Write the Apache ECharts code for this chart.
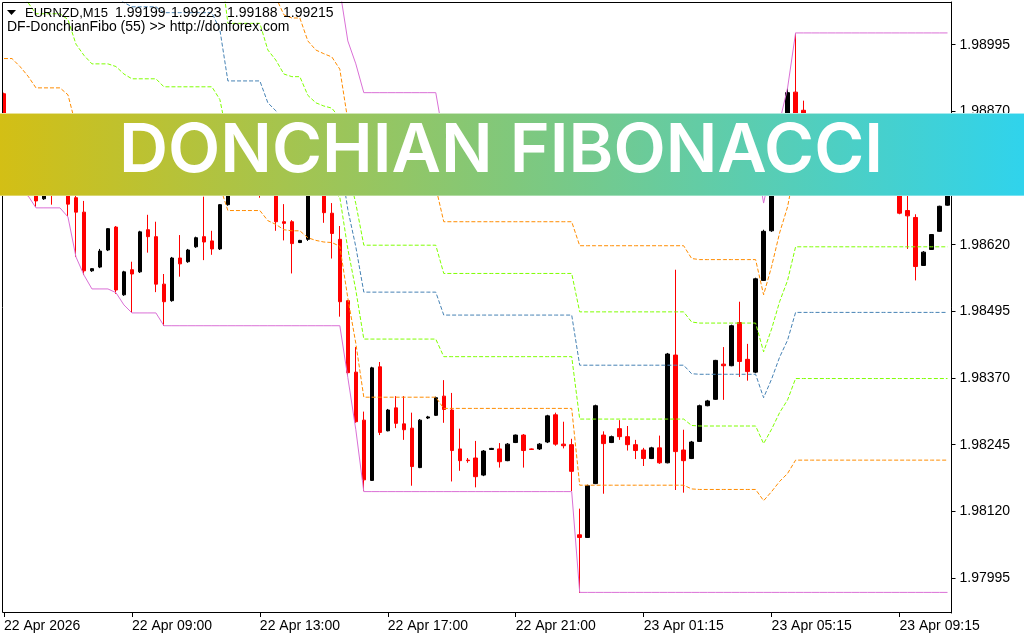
<!DOCTYPE html>
<html><head><meta charset="utf-8">
<script src="https://cdn.jsdelivr.net/npm/echarts@6/dist/echarts.min.js"></script>
<style>html,body{margin:0;padding:0;background:#fff}#c{width:1024px;height:640px}</style>
</head><body><div id="c"></div>
<script>
// ---- data: [open, close, low, high] ----
const candles = [
[1.98903,1.98798,1.98770,1.98905],[1.98770,1.98798,1.98760,1.98807],[1.98798,1.98760,1.98736,1.98807],[1.98760,1.98723,1.98711,1.98770],
[1.98723,1.98702,1.98691,1.98738],[1.98706,1.98712,1.98704,1.98719],[1.98756,1.98730,1.98695,1.98768],[1.98730,1.98756,1.98723,1.98770],
[1.98745,1.98696,1.98674,1.98756],[1.98708,1.98681,1.98597,1.98732],[1.98681,1.98571,1.98563,1.98702],[1.98571,1.98575,1.98569,1.98576],
[1.98578,1.98608,1.98576,1.98612],[1.98610,1.98650,1.98608,1.98651],[1.98653,1.98535,1.98528,1.98655],[1.98526,1.98569,1.98524,1.98571],
[1.98573,1.98565,1.98492,1.98588],[1.98569,1.98644,1.98567,1.98646],[1.98648,1.98635,1.98605,1.98676],[1.98635,1.98546,1.98531,1.98663],
[1.98546,1.98513,1.98468,1.98565],[1.98515,1.98595,1.98513,1.98597],[1.98595,1.98584,1.98560,1.98638],[1.98588,1.98610,1.98586,1.98612],
[1.98616,1.98633,1.98614,1.98635],[1.98635,1.98625,1.98591,1.98710],[1.98627,1.98612,1.98601,1.98646],[1.98612,1.98695,1.98610,1.98696],
[1.98695,1.98798,1.98693,1.98816],[1.98798,1.98770,1.98756,1.98813],[1.98770,1.98807,1.98764,1.98816],[1.98807,1.98779,1.98760,1.98819],
[1.98779,1.98732,1.98708,1.98788],[1.98732,1.98760,1.98719,1.98779],[1.98760,1.98663,1.98646,1.98770],[1.98663,1.98660,1.98628,1.98696],
[1.98663,1.98622,1.98566,1.98666],[1.98624,1.98628,1.98623,1.98629],[1.98630,1.98751,1.98627,1.98760],[1.98751,1.98732,1.98717,1.98764],
[1.98736,1.98680,1.98661,1.98785],[1.98679,1.98641,1.98594,1.98698],[1.98630,1.98513,1.98485,1.98655],[1.98515,1.98380,1.98375,1.98516],
[1.98381,1.98288,1.98286,1.98428],[1.98291,1.98179,1.98158,1.98307],[1.98178,1.98389,1.98177,1.98391],[1.98391,1.98268,1.98263,1.98400],
[1.98271,1.98310,1.98270,1.98312],[1.98314,1.98285,1.98276,1.98336],[1.98284,1.98273,1.98254,1.98336],[1.98276,1.98204,1.98168,1.98305],
[1.98202,1.98291,1.98201,1.98293],[1.98295,1.98297,1.98293,1.98299],[1.98300,1.98333,1.98299,1.98335],[1.98336,1.98311,1.98286,1.98366],
[1.98310,1.98234,1.98176,1.98342],[1.98237,1.98215,1.98196,1.98275],[1.98216,1.98215,1.98211,1.98220],[1.98220,1.98185,1.98165,1.98252],
[1.98188,1.98233,1.98186,1.98235],[1.98236,1.98238,1.98235,1.98239],[1.98237,1.98213,1.98202,1.98248],[1.98215,1.98246,1.98214,1.98248],
[1.98249,1.98263,1.98248,1.98264],[1.98263,1.98234,1.98202,1.98265],[1.98237,1.98236,1.98235,1.98238],[1.98237,1.98246,1.98235,1.98248],
[1.98250,1.98299,1.98248,1.98301],[1.98301,1.98246,1.98243,1.98305],[1.98246,1.98243,1.98238,1.98288],[1.98245,1.98195,1.98158,1.98256],
[1.98076,1.98071,1.97967,1.98125],[1.98071,1.98168,1.98070,1.98170],[1.98172,1.98318,1.98171,1.98320],[1.98263,1.98247,1.98153,1.98270],
[1.98249,1.98260,1.98248,1.98262],[1.98275,1.98260,1.98254,1.98291],[1.98260,1.98245,1.98234,1.98280],[1.98245,1.98234,1.98218,1.98254],
[1.98235,1.98219,1.98205,1.98239],[1.98219,1.98239,1.98218,1.98241],[1.98239,1.98211,1.98209,1.98262],[1.98211,1.98415,1.98210,1.98417],
[1.98413,1.98232,1.98160,1.98573],[1.98235,1.98215,1.98155,1.98273],[1.98219,1.98250,1.98218,1.98252],[1.98251,1.98318,1.98250,1.98320],
[1.98318,1.98327,1.98317,1.98329],[1.98330,1.98403,1.98329,1.98404],[1.98396,1.98393,1.98329,1.98428],[1.98393,1.98468,1.98392,1.98470],
[1.98474,1.98401,1.98372,1.98513],[1.98405,1.98382,1.98365,1.98434],[1.98381,1.98556,1.98379,1.98558],[1.98553,1.98645,1.98552,1.98648],
[1.98646,1.98741,1.98644,1.98768],[1.98741,1.98835,1.98732,1.98850],[1.98835,1.98905,1.98826,1.98914],[1.98906,1.98807,1.98798,1.99017],
[1.98872,1.98839,1.98826,1.98890],[1.98839,1.98858,1.98828,1.98865],[1.98858,1.98816,1.98805,1.98863],[1.98816,1.98798,1.98779,1.98831],
[1.98798,1.98826,1.98788,1.98835],[1.98826,1.98783,1.98770,1.98835],[1.98783,1.98770,1.98751,1.98798],[1.98770,1.98798,1.98760,1.98807],
[1.98798,1.98760,1.98745,1.98807],[1.98760,1.98745,1.98730,1.98775],[1.98745,1.98764,1.98732,1.98779],[1.98764,1.98741,1.98723,1.98775],
[1.98741,1.98679,1.98677,1.98756],[1.98684,1.98674,1.98612,1.98714],[1.98671,1.98579,1.98553,1.98677],[1.98581,1.98606,1.98580,1.98608],
[1.98611,1.98639,1.98610,1.98640],[1.98645,1.98692,1.98644,1.98693],[1.98694,1.98714,1.98693,1.98715]
];
// Donchian (55) upper / lower channel, read per bar
const channelHigh = [
1.99660,1.99660,1.99660,1.99660,
1.99641,1.99641,1.99641,1.99641,1.99641,1.99641,1.99641,1.99641,1.99641,1.99641,
1.99641,1.99641,1.99641,1.99641,1.99641,1.99641,1.99641,1.99641,1.99641,1.99641,
1.99641,1.99641,1.99641,
1.99578,
1.99385,1.99385,1.99385,1.99385,1.99385,
1.99304,1.99274,1.99231,1.99223,1.99223,1.99167,1.99145,1.99135,1.99128,1.99098,1.99002,1.98959,
1.98905,1.98905,1.98905,1.98905,1.98905,1.98905,1.98905,1.98905,1.98905,1.98905,
1.98819,1.98819,1.98819,1.98819,1.98819,1.98819,1.98819,1.98819,1.98819,1.98819,
1.98819,1.98819,1.98819,1.98819,1.98819,1.98819,1.98819,1.98819,1.98819,1.98819,
1.98819,1.98819,1.98819,1.98819,1.98819,1.98819,1.98819,1.98819,1.98819,1.98819,
1.98819,
1.98788,
1.98785,1.98785,1.98785,1.98785,1.98785,1.98785,1.98785,1.98785,
1.98698,1.98768,1.98850,1.98914,
1.99017,1.99017,1.99017,1.99017,1.99017,1.99017,1.99017,1.99017,1.99017,1.99017,
1.99017,1.99017,1.99017,1.99017,1.99017,1.99017,1.99017,1.99017,1.99017,1.99017
];
const channelLow = [
1.98755,1.98755,1.98736,1.98712,
1.98689,1.98689,1.98689,1.98689,
1.98672,1.98597,1.98563,
1.98537,1.98537,1.98537,
1.98530,1.98507,
1.98492,1.98492,1.98492,1.98492,
1.98468,1.98468,1.98468,1.98468,1.98468,1.98468,1.98468,1.98468,1.98468,1.98468,
1.98468,1.98468,1.98468,1.98468,1.98468,1.98468,1.98468,1.98468,1.98468,1.98468,
1.98468,1.98468,1.98468,
1.98371,1.98273,
1.98157,1.98157,1.98157,1.98157,1.98157,1.98157,1.98157,1.98157,1.98157,1.98157,
1.98157,1.98157,1.98157,1.98157,1.98157,1.98157,1.98157,1.98157,1.98157,1.98157,
1.98157,1.98157,1.98157,1.98157,1.98157,1.98157,1.98157,
1.97968,1.97968,1.97968,1.97968,1.97968,1.97968,1.97968,1.97968,1.97968,1.97968,
1.97968,1.97968,1.97968,1.97968,1.97968,1.97968,1.97968,1.97968,1.97968,1.97968,
1.97968,1.97968,1.97968,1.97968,1.97968,1.97968,1.97968,1.97968,1.97968,1.97968,
1.97968,1.97968,1.97968,1.97968,1.97968,1.97968,1.97968,1.97968,1.97968,1.97968,
1.97968,1.97968,1.97968,1.97968,1.97968,1.97968,1.97968
];
const fibRatios = [0.236, 0.382, 0.5, 0.618, 0.764];
const fibColors = ['#FF8C00', '#7FFF00', '#4682B4', '#7FFF00', '#FF8C00'];
const yTickValues = [1.97995, 1.98120, 1.98245, 1.98370, 1.98495, 1.98620, 1.98745, 1.98870, 1.98995];
const xTickIndex = [0, 16, 32, 48, 64, 80, 96, 112];
const xTickLabels = ['22 Apr 2026', '22 Apr 09:00', '22 Apr 13:00', '22 Apr 17:00', '22 Apr 21:00', '23 Apr 01:15', '23 Apr 05:15', '23 Apr 09:15'];
const headerSymbol = 'EURNZD,M15';
const headerQuotes = ['1.99199', '1.99223', '1.99188', '1.99215'];
const indicatorLabel = 'DF-DonchianFibo (55) >> http://donforex.com';
const bannerTitle = 'DONCHIAN FIBONACCI';

// categories: M15 bar times
const categories = [];
const t0 = Date.UTC(2026, 3, 22, 5, 0);
for (let i = 0; i < candles.length; i++) {
  const t = new Date(t0 + (i + (i >= 76 ? 1 : 0)) * 900000);
  categories.push(t.toISOString().slice(0, 16).replace('T', ' '));
}
const labelMap = new Map(xTickIndex.map((k, j) => [k, xTickLabels[j]]));
const FONT = '"Liberation Sans", Arial, sans-serif';

// fibonacci levels of the channel (indicator definition)
const fibSeries = fibRatios.map((r, k) => ({
  type: 'line', name: 'fib' + r, symbol: 'none', silent: true, z: 4,
  data: channelHigh.map((h, i) => +(h - r * (h - channelLow[i])).toFixed(5)),
  lineStyle: { color: fibColors[k], width: 1, type: [4, 2] }
}));

const quoteX = [115, 171, 227, 283];
const headerText = (text, x, y, size) => ({ type: 'text', z: 60, silent: true, x: x, y: y,
  style: { text: text, fill: '#000', fontSize: size, fontFamily: FONT, verticalAlign: 'middle' } });

const chart = echarts.init(document.getElementById('c'), null, { renderer: 'canvas' });
chart.setOption({
  animation: false,
  backgroundColor: '#ffffff',
  grid: { left: -0.5, top: 2, width: 952, height: 611 },
  xAxis: {
    type: 'category', data: categories, boundaryGap: true,
    axisLine: { show: false },
    axisTick: { show: true, alignWithLabel: true, length: 4, interval: (i) => labelMap.has(i), lineStyle: { color: '#000' } },
    axisLabel: { interval: (i) => labelMap.has(i), formatter: (v, i) => labelMap.get(i) || '', align: 'left',
      color: '#000', fontSize: 14, fontFamily: FONT, margin: 6 },
    splitLine: { show: false }
  },
  yAxis: {
    type: 'value', position: 'right', min: 1.97929375, max: 1.99075,
    axisLine: { show: true, lineStyle: { color: '#000', width: 1 } },
    axisTick: { show: true, length: 4, customValues: yTickValues, lineStyle: { color: '#000' } },
    axisLabel: { customValues: yTickValues, formatter: (v) => v.toFixed(5), color: '#000', fontSize: 14, fontFamily: FONT, margin: 8 },
    splitLine: { show: false }
  },
  series: [
    { type: 'candlestick', data: candles, barWidth: 4, z: 2, silent: true,
      itemStyle: { color: '#000000', color0: '#FF0000', borderColor: '#000000', borderColor0: '#FF0000', borderColorDoji: '#000000', borderWidth: 1 } },
    { type: 'line', name: 'upper', data: channelHigh, symbol: 'none', silent: true, z: 4, lineStyle: { color: '#DA70D6', width: 1 } },
    { type: 'line', name: 'lower', data: channelLow, symbol: 'none', silent: true, z: 4, lineStyle: { color: '#DA70D6', width: 1 } }
  ].concat(fibSeries),
  graphic: [
    { type: 'rect', z: 50, silent: true, shape: { x: 2.5, y: 2.5, width: 949, height: 610 }, style: { fill: 'none', stroke: '#000', lineWidth: 1 } },
    { type: 'polygon', z: 60, silent: true, shape: { points: [[7, 10], [16, 10], [11.5, 15]] }, style: { fill: '#000' } },
    headerText(headerSymbol, 25, 13.5, 13),
    headerText(headerQuotes[0], quoteX[0], 13.5, 14),
    headerText(headerQuotes[1], quoteX[1], 13.5, 14),
    headerText(headerQuotes[2], quoteX[2], 13.5, 14),
    headerText(headerQuotes[3], quoteX[3], 13.5, 14),
    headerText(indicatorLabel, 7, 27.5, 14),
    { type: 'rect', z: 100, silent: true, shape: { x: 0, y: 113, width: 1024, height: 83 },
      style: { fill: { type: 'linear', x: 0, y: 0, x2: 1, y2: 0, colorStops: [
        { offset: 0, color: '#D3BF15' }, { offset: 0.5, color: '#80C87C' }, { offset: 1, color: '#30D3EC' } ] } } },
    { type: 'line', z: 101, silent: true, shape: { x1: 0, y1: 113.5, x2: 1024, y2: 113.5 }, style: { stroke: 'rgba(255,255,255,0.55)', lineWidth: 1 } },
    { type: 'line', z: 101, silent: true, shape: { x1: 0, y1: 195.5, x2: 1024, y2: 195.5 }, style: { stroke: 'rgba(255,255,255,0.35)', lineWidth: 1 } },
    { type: 'text', z: 102, silent: true, x: 501, y: 152, style: { text: bannerTitle, fill: '#ffffff', fontSize: 68, fontWeight: 600,
      fontFamily: 'Inter, "Open Sans", sans-serif', align: 'center', verticalAlign: 'middle' } }
  ]
});
</script>
</body></html>
